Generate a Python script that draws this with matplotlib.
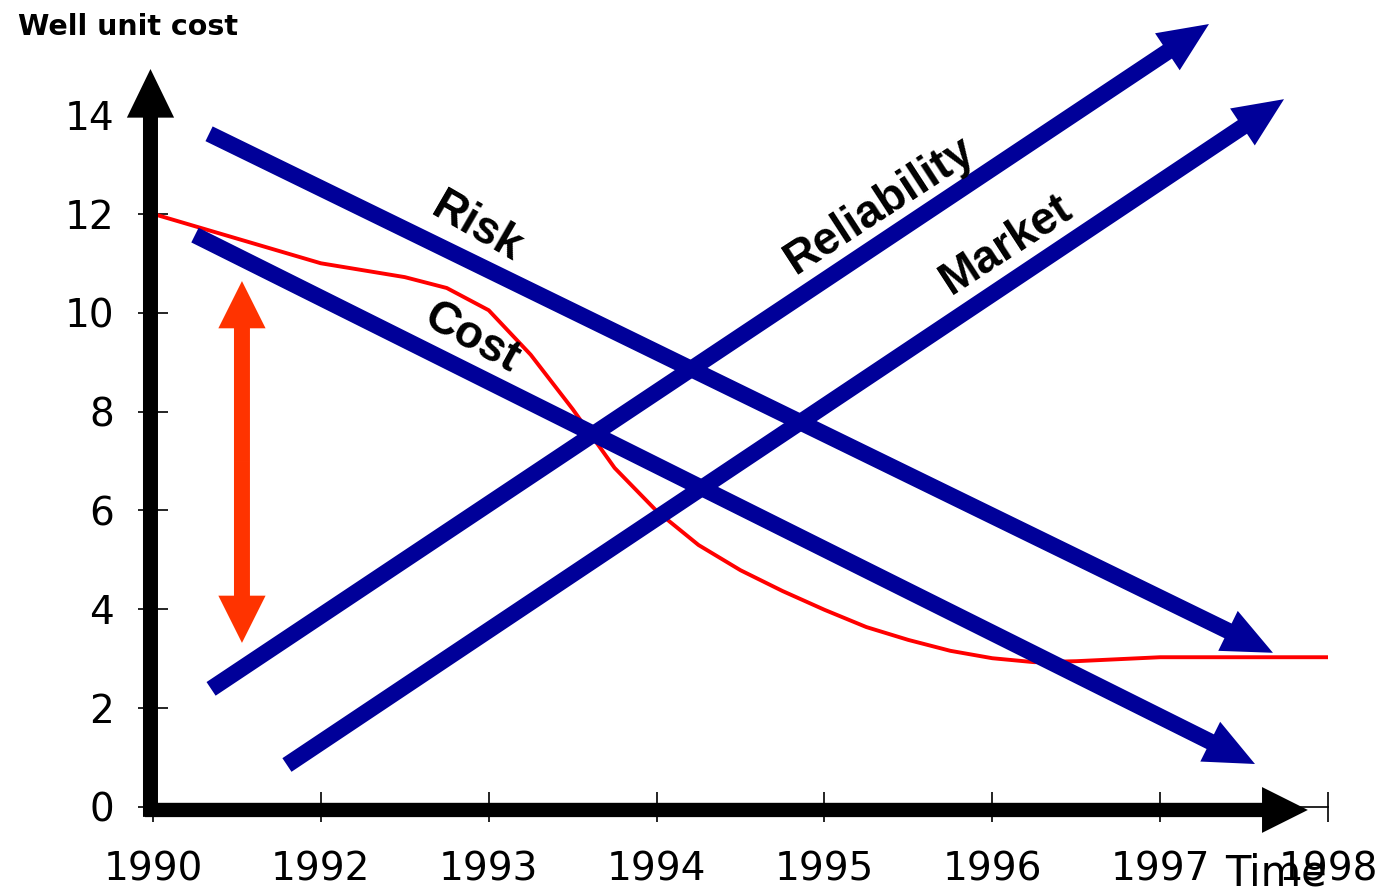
import matplotlib
matplotlib.use("Agg")
import matplotlib.pyplot as plt
from matplotlib.patches import FancyArrowPatch, ArrowStyle

# ---- data ----
x_labels = ["1990", "1992", "1993", "1994", "1995", "1996", "1997", "1998"]
y_ticks = [0, 2, 4, 6, 8, 10, 12, 14]

cost_x = [0, 0.25, 0.5, 0.75, 1.0, 1.25, 1.5, 1.75, 2.0, 2.25, 2.5, 2.75,
          3.0, 3.25, 3.5, 3.75, 4.0, 4.25, 4.5, 4.75, 5.0, 5.25, 5.5, 5.75,
          6.0, 7.0]
cost_y = [12.0, 11.75, 11.5, 11.25, 11.0, 10.86, 10.72, 10.5, 10.05, 9.15,
          8.05, 6.86, 5.99, 5.30, 4.79, 4.37, 3.99, 3.64, 3.38, 3.16, 3.01,
          2.93, 2.95, 2.99, 3.03, 3.03]

trend_names = ["Risk", "Cost", "Reliability", "Market"]
trend_start_x = [0.334, 0.25, 0.346, 0.798]
trend_start_y = [13.62, 11.57, 2.39, 0.85]
trend_end_x = [6.672, 6.565, 6.291, 6.738]
trend_end_y = [3.12, 0.87, 15.84, 14.32]
label_x = [1.930, 1.900, 4.331, 5.087]
label_y = [11.71, 9.49, 12.17, 11.37]
label_rot = [-30.0, -29.0, 33.0, 33.0]

span_x = 0.53
span_low = 3.32
span_high = 10.64

BLUE = "#000099"
RED = "#FF0000"
ORANGE = "#FF3300"

fig = plt.figure(figsize=(13.85, 8.93), dpi=100)
ax = fig.add_axes([153 / 1385, 86 / 893, 1175 / 1385, 692 / 893])
ax.set_xlim(0, 7)
ax.set_ylim(0, 14)
for s in ["top", "right"]:
    ax.spines[s].set_visible(False)
for s in ["left", "bottom"]:
    ax.spines[s].set_linewidth(1.2)

ax.set_xticks(range(len(x_labels)))
ax.set_xticklabels(x_labels)
ax.set_yticks(y_ticks)
ax.tick_params(axis="both", direction="inout", length=22, width=1.2,
               labelsize=28)
ax.tick_params(axis="x", pad=20)
ax.tick_params(axis="y", pad=17)
for lab in ax.get_xticklabels() + ax.get_yticklabels():
    lab.set_fontfamily("DejaVu Sans")

# red cost curve
ax.plot(cost_x, cost_y, color=RED, lw=2.8, zorder=2, solid_capstyle="round")

# blue trend arrows
blue_style = ArrowStyle.Simple(head_length=36, head_width=32, tail_width=11.8)
for i, name in enumerate(trend_names):
    arr = FancyArrowPatch((trend_start_x[i], trend_start_y[i]),
                          (trend_end_x[i], trend_end_y[i]),
                          arrowstyle=blue_style, mutation_scale=1,
                          shrinkA=0, shrinkB=0, color=BLUE, lw=0,
                          zorder=3, clip_on=False)
    ax.add_patch(arr)
    ax.text(label_x[i], label_y[i], name, rotation=label_rot[i],
            rotation_mode="anchor", ha="center", va="center",
            fontsize=33, fontweight="bold", family="Liberation Sans",
            zorder=5)

# orange double arrow
mid = (span_low + span_high) / 2
red_style = ArrowStyle.Simple(head_length=34, head_width=34, tail_width=11.5)
for end in (span_high, span_low):
    ax.add_patch(FancyArrowPatch((span_x, mid), (span_x, end),
                                 arrowstyle=red_style, mutation_scale=1,
                                 shrinkA=0, shrinkB=0, color=ORANGE, lw=0,
                                 zorder=3))

# thick black axis arrows
ax_style_y = ArrowStyle.Simple(head_length=35, head_width=34, tail_width=10.8)
ax_style_x = ArrowStyle.Simple(head_length=33, head_width=33, tail_width=10.3)
ax.add_patch(FancyArrowPatch((-0.015, -0.2), (-0.015, 14.93),
                             arrowstyle=ax_style_y, mutation_scale=1,
                             shrinkA=0, shrinkB=0, color="black", lw=0,
                             zorder=6, clip_on=False))
ax.add_patch(FancyArrowPatch((-0.048, -0.06), (6.88, -0.06),
                             arrowstyle=ax_style_x, mutation_scale=1,
                             shrinkA=0, shrinkB=0, color="black", lw=0,
                             zorder=6, clip_on=False))

fig.text(18 / 1385, 1 - 35 / 893, "Well unit cost", fontsize=20.5,
         fontweight="bold", family="DejaVu Sans", va="baseline", ha="left")
fig.text(1225 / 1385, 8 / 893, "Time", fontsize=30,
         family="DejaVu Sans", va="baseline", ha="left")

fig.savefig("out.png", dpi=100)
